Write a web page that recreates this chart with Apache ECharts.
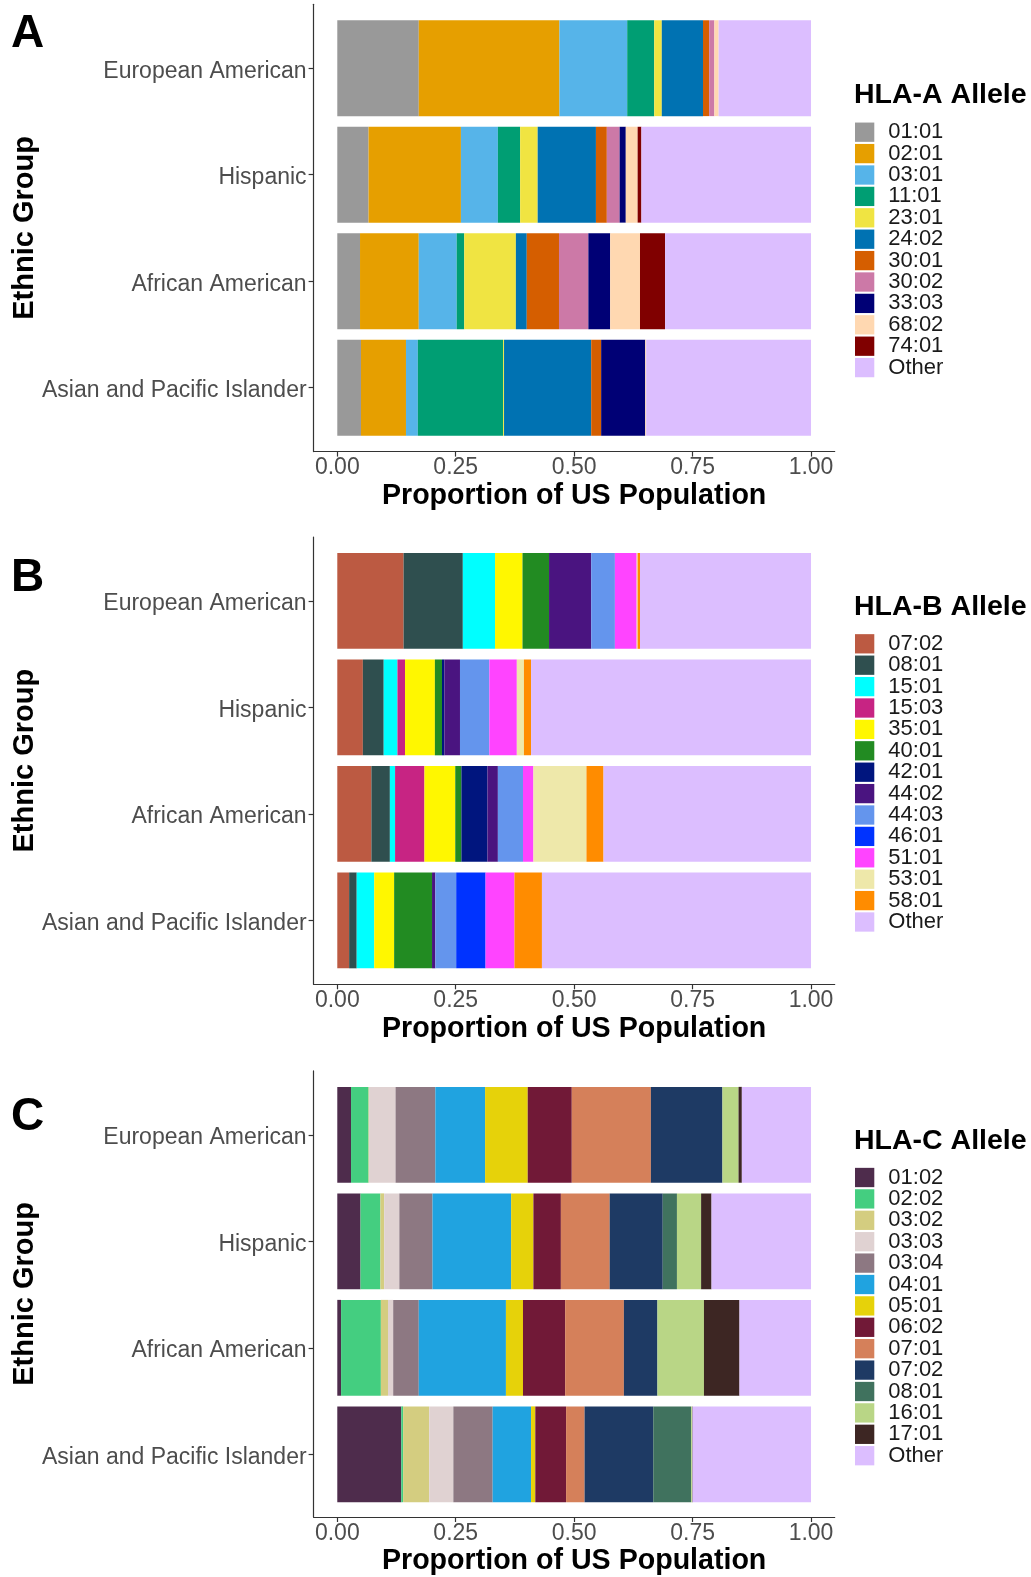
<!DOCTYPE html>
<html>
<head>
<meta charset="utf-8">
<script src="https://cdn.jsdelivr.net/npm/echarts@6/dist/echarts.min.js"></script>
<style>
  html, body { margin: 0; padding: 0; background: #fff; }
  #chart { width: 1031px; height: 1577px; }
</style>
</head>
<body>
<div id="chart"></div>
<script>
// Ethnic groups (top to bottom)
const groups = ['European American', 'Hispanic', 'African American', 'Asian and Pacific Islander'];
const xTicks = [0, 0.25, 0.5, 0.75, 1];

// HLA-A allele proportions, one row per allele, columns follow `groups`
const allelesA = ['01:01', '02:01', '03:01', '11:01', '23:01', '24:02', '30:01', '30:02', '33:03', '68:02', '74:01', 'Other'];
const valuesA = [
  [0.172, 0.066, 0.048, 0.050],
  [0.297, 0.195, 0.124, 0.095],
  [0.143, 0.078, 0.080, 0.025],
  [0.057, 0.047, 0.016, 0.180],
  [0.016, 0.037, 0.109, 0.002],
  [0.087, 0.123, 0.023, 0.184],
  [0.013, 0.023, 0.068, 0.021],
  [0.011, 0.027, 0.062, 0.000],
  [0.000, 0.013, 0.046, 0.093],
  [0.009, 0.025, 0.063, 0.002],
  [0.000, 0.008, 0.053, 0.000],
  [0.195, 0.358, 0.308, 0.348]
];
const colorsA = ['#999999', '#E69F00', '#56B4E9', '#009E73', '#F0E442', '#0072B2', '#D55E00', '#CC79A7', '#000075', '#FFD8B1', '#800000', '#DCBEFF'];

// HLA-B allele proportions
const allelesB = ['07:02', '08:01', '15:01', '15:03', '35:01', '40:01', '42:01', '44:02', '44:03', '46:01', '51:01', '53:01', '58:01', 'Other'];
const valuesB = [
  [0.140, 0.054, 0.072, 0.025],
  [0.125, 0.044, 0.039, 0.016],
  [0.068, 0.029, 0.011, 0.037],
  [0.000, 0.016, 0.062, 0.000],
  [0.058, 0.063, 0.065, 0.042],
  [0.056, 0.015, 0.013, 0.080],
  [0.000, 0.005, 0.055, 0.000],
  [0.089, 0.033, 0.022, 0.007],
  [0.050, 0.062, 0.053, 0.044],
  [0.000, 0.000, 0.000, 0.062],
  [0.046, 0.058, 0.022, 0.061],
  [0.002, 0.015, 0.112, 0.000],
  [0.005, 0.015, 0.036, 0.058],
  [0.361, 0.591, 0.438, 0.568]
];
const colorsB = ['#BC5A42', '#2F4F4F', '#00FFFF', '#C72483', '#FFF700', '#228B22', '#00157E', '#4A1480', '#6495ED', '#0033FF', '#FF44FF', '#EEE8AA', '#FF8C00', '#DCBEFF'];

// HLA-C allele proportions
const allelesC = ['01:02', '02:02', '03:02', '03:03', '03:04', '04:01', '05:01', '06:02', '07:01', '07:02', '08:01', '16:01', '17:01', 'Other'];
const valuesC = [
  [0.029, 0.049, 0.008, 0.135],
  [0.037, 0.042, 0.084, 0.004],
  [0.001, 0.008, 0.015, 0.055],
  [0.056, 0.032, 0.011, 0.051],
  [0.084, 0.070, 0.054, 0.083],
  [0.105, 0.166, 0.184, 0.081],
  [0.090, 0.047, 0.036, 0.009],
  [0.093, 0.058, 0.089, 0.065],
  [0.167, 0.103, 0.124, 0.039],
  [0.151, 0.112, 0.070, 0.145],
  [0.000, 0.030, 0.001, 0.080],
  [0.034, 0.051, 0.098, 0.002],
  [0.007, 0.022, 0.075, 0.001],
  [0.146, 0.210, 0.151, 0.250]
];
const colorsC = ['#4E2C4C', '#44CE80', '#D4CD80', '#E0D2D2', '#8D7882', '#20A3E0', '#E6D20A', '#711937', '#D5805A', '#1E3A64', '#40725E', '#B9D686', '#3D2623', '#DCBEFF'];

// Panel layout (pixels)
const FONT = '"Liberation Sans", Arial, Helvetica, sans-serif';
const plotLeft = 313.6, plotWidth = 521.1, plotHeight = 447.3;
const band = plotHeight / 4.2;
const panels = [
  { key: 'A', alleles: allelesA, values: valuesA, colors: colorsA, top: 4.3,    legendTop: 116.2, headTop: 81,   letterTop: 11 },
  { key: 'B', alleles: allelesB, values: valuesB, colors: colorsB, top: 537.0,  legendTop: 627.8, headTop: 593,  letterTop: 555 },
  { key: 'C', alleles: allelesC, values: valuesC, colors: colorsC, top: 1070.9, legendTop: 1161.5, headTop: 1127, letterTop: 1094 }
];

const grid = [], xAxis = [], yAxis = [], series = [], legend = [], title = [];

panels.forEach((p, i) => {
  const outer = 2 * i, inner = 2 * i + 1;
  // frame grid: full panel area with axis lines, x ticks and axis titles
  grid.push({ left: plotLeft, width: plotWidth, top: p.top, height: plotHeight });
  // bar grid: the four category bands inside the padded panel
  grid.push({ left: plotLeft, width: plotWidth, top: p.top + 0.1 * band, height: 4 * band });

  xAxis.push({
    gridIndex: outer, type: 'value', min: -0.05, max: 1.05,
    axisLine: { show: true, onZero: false, lineStyle: { color: '#333', width: 1.2 } },
    axisTick: { show: true, customValues: xTicks, length: 5, lineStyle: { color: '#333', width: 1.2 } },
    axisLabel: { customValues: xTicks, formatter: v => v.toFixed(2), fontSize: 23, color: '#4D4D4D', margin: 5, fontFamily: FONT },
    splitLine: { show: false },
    name: 'Proportion of US Population', nameLocation: 'middle', nameGap: 30,
    nameTextStyle: { fontSize: 28.6, fontWeight: 'bold', color: '#000', fontFamily: FONT }
  });
  xAxis.push({ gridIndex: inner, type: 'value', min: -0.05, max: 1.05, show: false });

  yAxis.push({
    gridIndex: outer, type: 'value', min: 0, max: 1,
    axisLine: { show: true, onZero: false, lineStyle: { color: '#333', width: 1.2 } },
    axisTick: { show: false }, axisLabel: { show: false }, splitLine: { show: false },
    name: 'Ethnic Group', nameLocation: 'middle', nameRotate: 90, nameGap: 274,
    nameTextStyle: { fontSize: 29, fontWeight: 'bold', color: '#000', fontFamily: FONT }
  });
  yAxis.push({
    gridIndex: inner, type: 'category', data: groups, inverse: true,
    axisLine: { show: false, onZero: false },
    axisTick: { show: true, alignWithLabel: true, length: 5, lineStyle: { color: '#333', width: 1.2 } },
    axisLabel: {
      margin: 7,
      formatter: v => '{g|' + v + '}',
      rich: { g: { fontSize: 23, color: '#4D4D4D', fontFamily: FONT, padding: [6, 0, 0, 0] } }
    },
    splitLine: { show: false }
  });

  const names = p.alleles.map(a => 'HLA-' + p.key + ' ' + a);
  p.alleles.forEach((a, j) => {
    series.push({
      type: 'bar', name: names[j], stack: 'HLA-' + p.key,
      xAxisIndex: inner, yAxisIndex: inner,
      barCategoryGap: '10%',
      data: p.values[j],
      itemStyle: { color: p.colors[j] },
      emphasis: { disabled: true }
    });
  });

  legend.push({
    orient: 'vertical', left: 850, top: p.legendTop,
    itemWidth: 19.3, itemHeight: 19.3, itemGap: -0.6, icon: 'rect',
    selectedMode: false, data: names,
    formatter: n => n.split(' ')[1],
    textStyle: { fontSize: 22, color: '#1A1A1A', lineHeight: 19, padding: [0, 0, 0, 9], fontFamily: FONT }
  });

  title.push({
    text: 'HLA-' + p.key + ' Allele', left: 854, top: p.headTop, padding: 0,
    textStyle: { fontSize: 28.5, fontWeight: 'bold', color: '#000', fontFamily: FONT }
  });
  title.push({
    text: p.key, left: 11, top: p.letterTop, padding: 0,
    textStyle: { fontSize: 46, fontWeight: 'bold', color: '#000', fontFamily: FONT }
  });
});

const chart = echarts.init(document.getElementById('chart'), null, { renderer: 'canvas' });
chart.setOption({
  animation: false,
  backgroundColor: '#fff',
  textStyle: { fontFamily: FONT },
  title, grid, xAxis, yAxis, legend, series
});
</script>
</body>
</html>
